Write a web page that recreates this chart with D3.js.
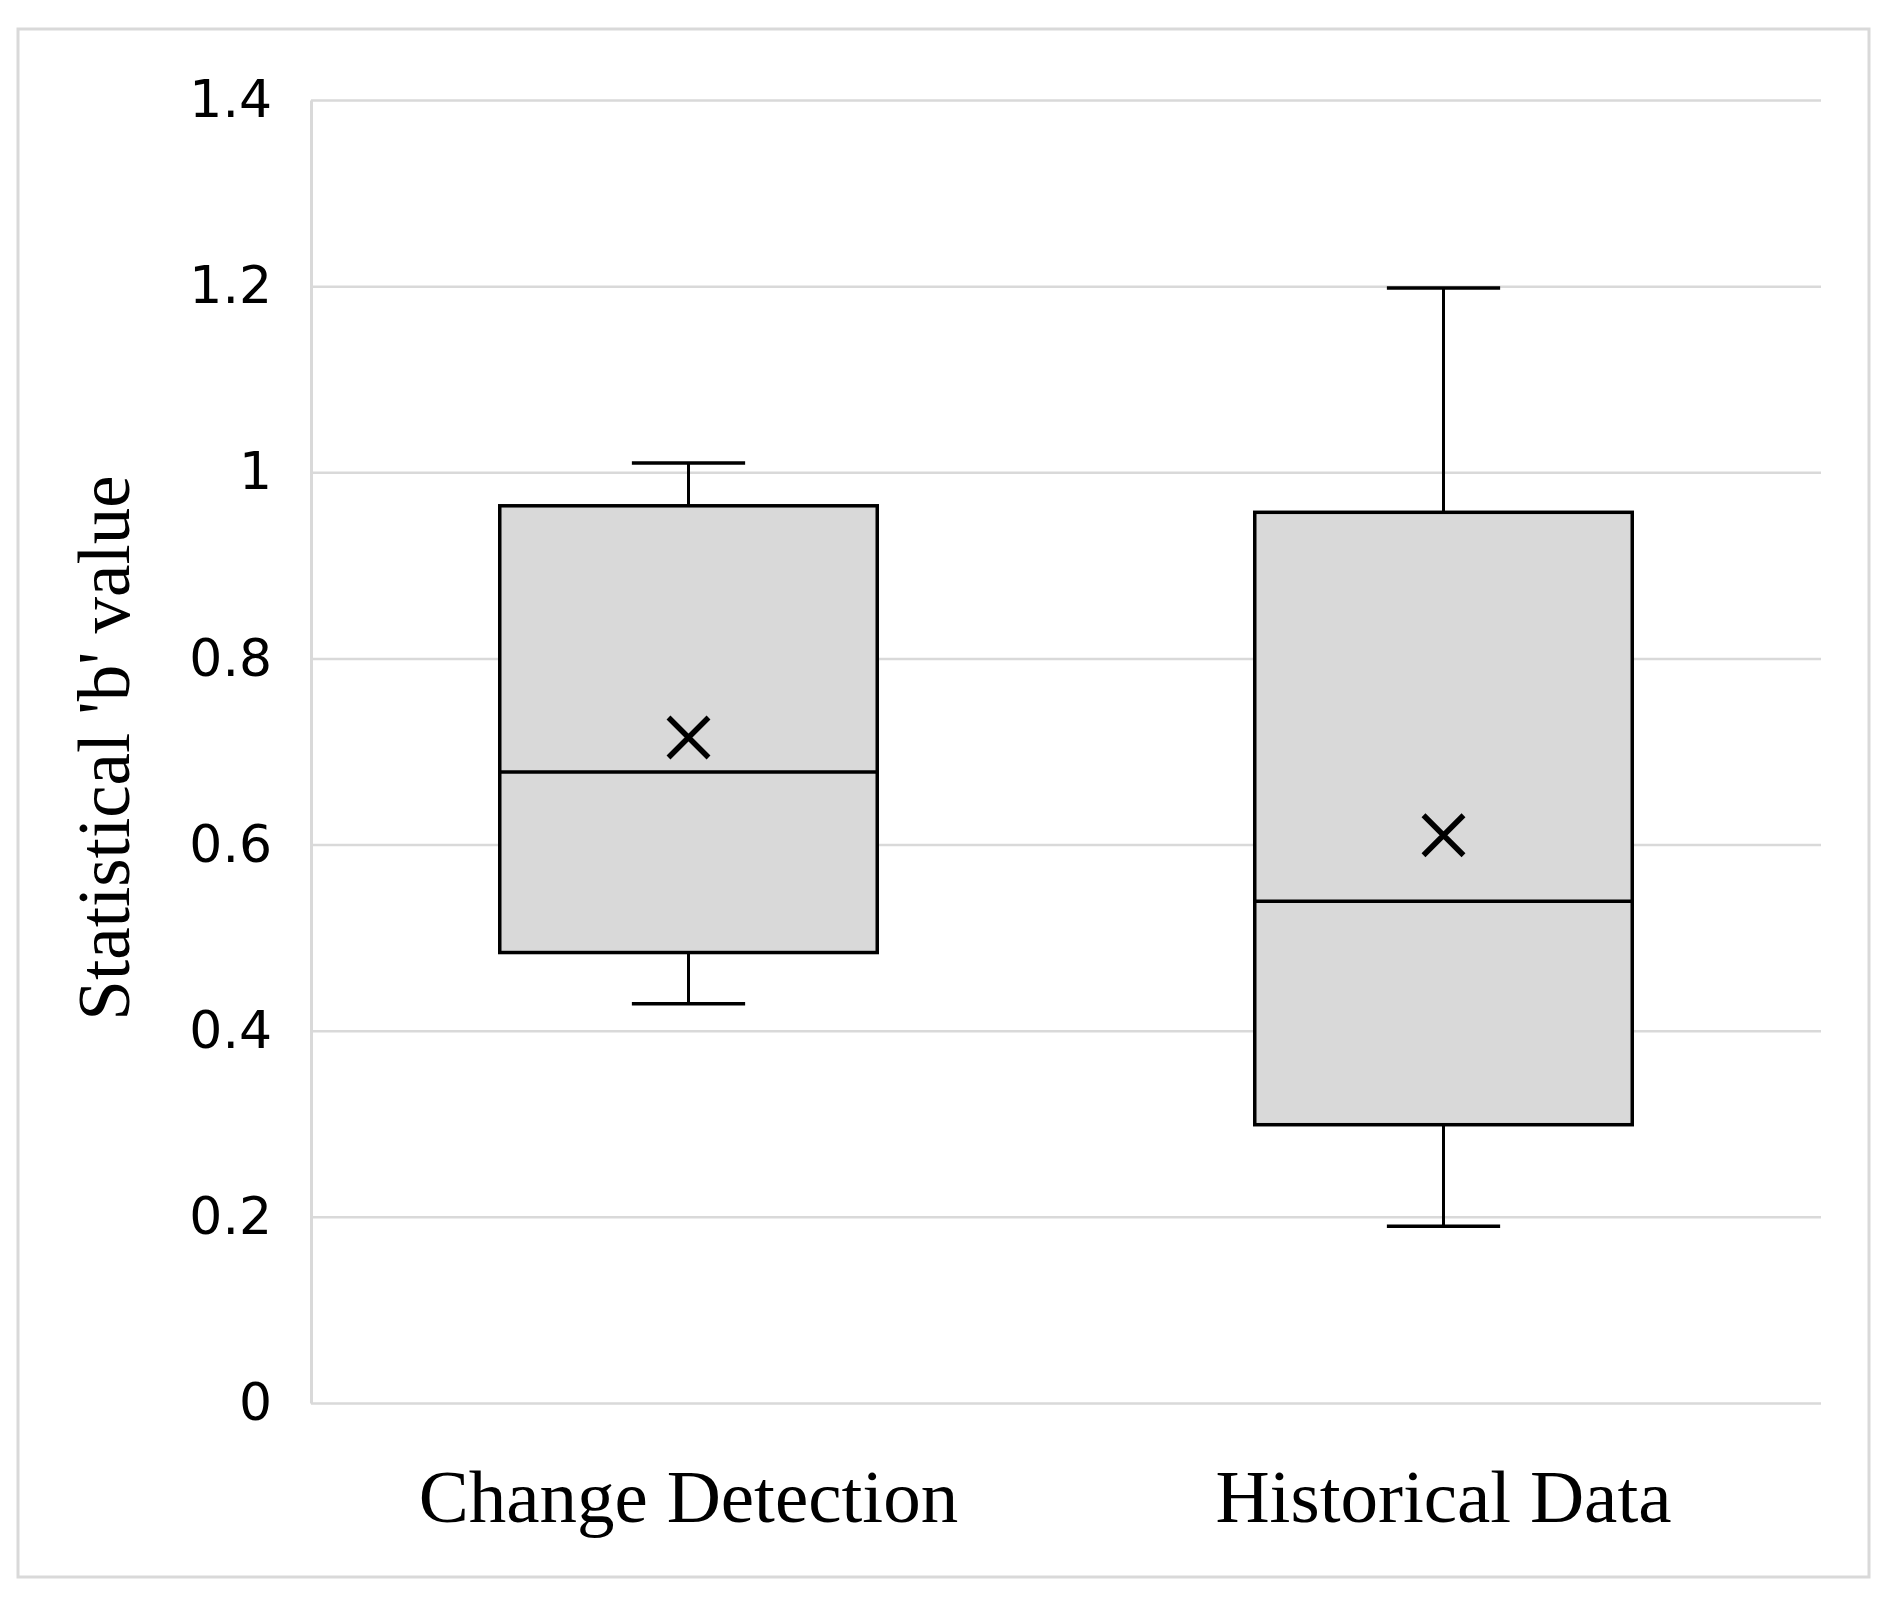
<!DOCTYPE html>
<html>
<head>
<meta charset="utf-8">
<script src="https://cdn.jsdelivr.net/npm/d3@7"></script>
<style>
  body { margin: 0; background: #fff; }
  svg { display: block; }
</style>
</head>
<body>
<div id="chart"></div>
<script>
// data
var categories = ["Change Detection", "Historical Data"];
var whiskerLow = [0.429, 0.190];
var q1 = [0.484, 0.299];
var median = [0.678, 0.539];
var q3 = [0.964, 0.957];
var whiskerHigh = [1.010, 1.198];
var mean = [0.715, 0.610];
var yTicks = [0, 0.2, 0.4, 0.6, 0.8, 1, 1.2, 1.4];
var yTickLabels = ["0", "0.2", "0.4", "0.6", "0.8", "1", "1.2", "1.4"];
var yTitle = "Statistical 'b' value";

var width = 1887, height = 1601;
var plot = { left: 311, right: 1821, top: 100, bottom: 1403 };
var gridColor = "#d9d9d9";

var svg = d3.select("#chart").append("svg")
  .attr("width", width)
  .attr("height", height);

// outer frame
svg.append("rect")
  .attr("x", 18).attr("y", 29)
  .attr("width", 1851).attr("height", 1548)
  .attr("fill", "#fff")
  .attr("stroke", gridColor)
  .attr("stroke-width", 3);

var y = d3.scaleLinear().domain([0, 1.4]).range([plot.bottom, plot.top]);
var x = d3.scaleBand().domain(categories)
  .range([plot.left, plot.right])
  .paddingInner(0.5).paddingOuter(0.25);

var yAxis = d3.axisLeft(y)
  .tickValues(yTicks)
  .tickFormat(function(d, i) { return yTickLabels[i]; })
  .tickSize(-(plot.right - plot.left))
  .tickSizeOuter(0)
  .tickPadding(39);

var gy = svg.append("g")
  .attr("transform", "translate(" + plot.left + ",0)")
  .call(yAxis);
gy.select(".domain").attr("stroke", gridColor).attr("stroke-width", 3);
gy.selectAll(".tick line").attr("stroke", gridColor).attr("stroke-width", 2.5);
gy.selectAll(".tick text")
  .attr("fill", "#000")
  .style("font-family", "'DejaVu Sans', sans-serif")
  .style("font-size", "52px");

// boxes
var rows = categories.map(function(c, i) {
  return { cat: c, lo: whiskerLow[i], q1: q1[i], med: median[i], q3: q3[i], hi: whiskerHigh[i], mean: mean[i] };
});

var bw = x.bandwidth();
var capW = bw * 0.3;
var g = svg.append("g").selectAll("g").data(rows).enter().append("g")
  .attr("transform", function(d) { return "translate(" + (x(d.cat) + bw / 2) + ",0)"; });

g.append("line")
  .attr("x1", 0).attr("x2", 0)
  .attr("y1", function(d) { return y(d.hi); })
  .attr("y2", function(d) { return y(d.lo); })
  .attr("stroke", "#000").attr("stroke-width", 3);

g.selectAll(".cap").data(function(d) { return [d.lo, d.hi]; }).enter().append("line")
  .attr("class", "cap")
  .attr("x1", -capW / 2).attr("x2", capW / 2)
  .attr("y1", function(v) { return y(v); })
  .attr("y2", function(v) { return y(v); })
  .attr("stroke", "#000").attr("stroke-width", 3.5);

g.append("rect")
  .attr("x", -bw / 2)
  .attr("width", bw)
  .attr("y", function(d) { return y(d.q3); })
  .attr("height", function(d) { return y(d.q1) - y(d.q3); })
  .attr("fill", "#d9d9d9")
  .attr("stroke", "#000").attr("stroke-width", 3.5);

g.append("line")
  .attr("x1", -bw / 2).attr("x2", bw / 2)
  .attr("y1", function(d) { return y(d.med); })
  .attr("y2", function(d) { return y(d.med); })
  .attr("stroke", "#000").attr("stroke-width", 3.5);

var m = 20;
g.append("path")
  .attr("d", function(d) {
    var cy = y(d.mean);
    return "M" + (-m) + "," + (cy - m) + "L" + m + "," + (cy + m) +
           "M" + m + "," + (cy - m) + "L" + (-m) + "," + (cy + m);
  })
  .attr("stroke", "#000").attr("stroke-width", 5.5).attr("fill", "none");

// category labels
svg.append("g").selectAll("text").data(categories).enter().append("text")
  .attr("x", function(d) { return x(d) + bw / 2; })
  .attr("y", 1522)
  .attr("text-anchor", "middle")
  .style("font-family", "'Liberation Serif', serif")
  .style("font-size", "75px")
  .attr("fill", "#000")
  .text(function(d) { return d; });

// y title
svg.append("text")
  .attr("transform", "translate(129,748) rotate(-90)")
  .attr("text-anchor", "middle")
  .style("font-family", "'Liberation Serif', serif")
  .style("font-size", "73px")
  .attr("fill", "#000")
  .text(yTitle);
</script>
</body>
</html>
